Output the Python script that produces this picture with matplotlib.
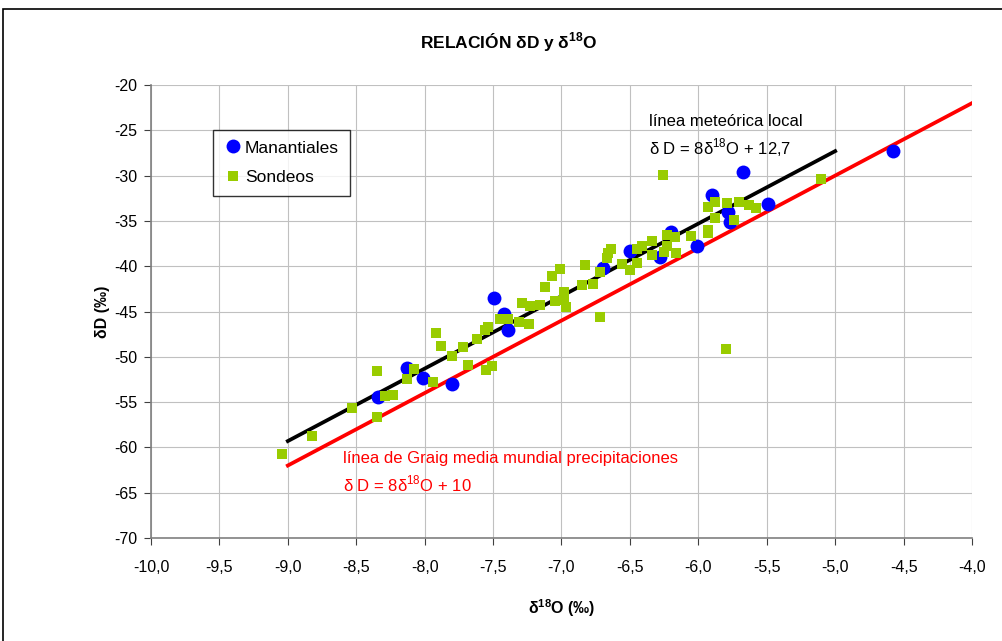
import matplotlib
matplotlib.use("Agg")
import matplotlib.pyplot as plt
from matplotlib.patches import Rectangle

plt.rcParams['font.family'] = ['Liberation Sans', 'DejaVu Sans']
plt.rcParams['mathtext.fontset'] = 'custom'
plt.rcParams['mathtext.rm'] = 'Liberation Sans'
plt.rcParams['mathtext.bf'] = 'Liberation Sans:bold'
plt.rcParams['axes.unicode_minus'] = False

# Manantiales (springs): d18O, dD
man_x = [-8.34, -8.13, -8.01, -7.80, -7.49, -7.42, -7.39, -6.70, -6.50, -6.28,
         -6.20, -6.01, -5.90, -5.67, -5.78, -5.77, -5.49, -4.58]
man_y = [-54.4, -51.2, -52.3, -53.0, -43.5, -45.3, -47.0, -40.2, -38.3, -39.0,
         -36.2, -37.8, -32.1, -29.6, -34.0, -35.1, -33.1, -27.3]

# Sondeos (boreholes): d18O, dD
son_x = [-9.04, -8.82, -8.53, -8.35, -8.35, -8.29, -8.23, -8.08, -8.13, -7.94,
         -7.92, -7.88, -7.80, -7.72, -7.68, -7.62, -7.56, -7.54, -7.55, -7.51,
         -7.45, -7.39, -7.31, -7.24, -7.29, -7.23, -7.16, -7.12, -7.07, -7.01,
         -7.05, -6.98, -6.98, -6.97, -6.83, -6.85, -6.77, -6.72, -6.72, -6.67,
         -6.66, -6.64, -6.56, -6.50, -6.45, -6.45, -6.41, -6.34, -6.34, -6.25,
         -6.23, -6.23, -6.16, -6.05, -6.26, -5.10, -5.93, -5.88, -5.79, -5.70,
         -5.63, -5.58, -5.88, -5.93, -5.93, -5.74, -5.80, -6.17]
son_y = [-60.7, -58.7, -55.7, -56.6, -51.6, -54.3, -54.2, -51.3, -52.5, -52.8,
         -47.4, -48.8, -49.9, -48.9, -50.9, -48.0, -47.0, -46.7, -51.5, -51.0,
         -45.8, -45.8, -46.2, -46.4, -44.1, -44.4, -44.3, -42.3, -41.1, -40.3,
         -43.8, -42.8, -43.7, -44.5, -39.9, -42.1, -42.0, -45.6, -40.6, -39.1,
         -38.5, -38.1, -39.8, -40.4, -39.6, -38.1, -37.8, -38.8, -37.2, -38.4,
         -37.8, -36.6, -38.5, -36.7, -29.9, -30.4, -33.5, -32.9, -33.0, -32.9,
         -33.2, -33.6, -34.7, -36.0, -36.3, -34.9, -49.1, -36.8]

# meteoric lines: dD = 8*d18O + b
lml_x = [-9.0, -5.0]
lml_b = 12.7
gmwl_x = [-9.0, -4.0]
gmwl_b = 10.0

fig = plt.figure(figsize=(10.03, 6.41), dpi=100)
fig.patches.append(Rectangle((3 / 1003, -0.01), 1.1, (641 - 9) / 641 + 0.01,
                             transform=fig.transFigure, fill=False,
                             edgecolor='black', linewidth=1.2))
ax = fig.add_axes([151 / 1003, 1 - 538 / 641, (972 - 151) / 1003, (538 - 85) / 641])

ax.plot(lml_x, [8 * v + lml_b for v in lml_x], color='black', lw=2.7, zorder=3)
ax.plot(gmwl_x, [8 * v + gmwl_b for v in gmwl_x], color='#FF0000', lw=2.7, zorder=3)
ax.plot(man_x, man_y, 'o', color='#0000FF', ms=10, mew=0, zorder=4, label='Manantiales')
ax.plot(son_x, son_y, 's', color='#99CC00', ms=7.3, mew=0, zorder=5, label='Sondeos')

ax.set_xlim(-10, -4)
ax.set_ylim(-70, -20)
ax.set_xticks([-10 + 0.5 * i for i in range(13)])
ax.set_xticklabels([f"{-10 + 0.5 * i:.1f}".replace('.', ',') for i in range(13)])
ax.set_yticks(range(-70, -19, 5))
ax.grid(True, color='#C0C0C0', lw=0.8)
ax.set_axisbelow(True)
for s in ['top', 'right']:
    ax.spines[s].set_visible(False)
for s in ['left', 'bottom']:
    ax.spines[s].set_color('#808080')
    ax.spines[s].set_linewidth(1.2)
ax.tick_params(axis='both', labelsize=11.5, length=5, color='#404040', direction='out')
ax.tick_params(axis='x', pad=11)
ax.tick_params(axis='y', pad=5)

fig.text(509 / 1003, 1 - 42 / 641, r'RELACIÓN δD y δ$^{\mathbf{18}}$O', ha='center', va='center',
         fontsize=12.5, fontweight='bold')
ax.set_xlabel(r'δ$^{\mathbf{18}}$O (‰)', fontsize=11.5, fontweight='bold', labelpad=16)
ax.set_ylabel('δD (‰)', fontsize=11.5, fontweight='bold', labelpad=3)

ax.text(-6.36, -24.0, 'línea meteórica local', fontsize=12, va='center')
ax.text(-6.36, -26.9, r'δ D = 8δ$^{18}$O + 12,7', fontsize=12, va='center')
ax.text(-8.60, -61.2, 'línea de Graig media mundial precipitaciones', fontsize=12,
        color='#FF0000', va='center')
ax.text(-8.60, -64.0, r'δ D = 8δ$^{18}$O + 10', fontsize=12, color='#FF0000', va='center')

leg = ax.legend(loc='upper left', bbox_to_anchor=(62 / 821, 1 - 45 / 453), fontsize=12.5,
                frameon=True, fancybox=False, edgecolor='black', handletextpad=0.15,
                handlelength=1.1, borderpad=0.6, labelspacing=0.85, borderaxespad=0)
leg.get_frame().set_linewidth(1.0)

fig.savefig('out.png', dpi=100)
